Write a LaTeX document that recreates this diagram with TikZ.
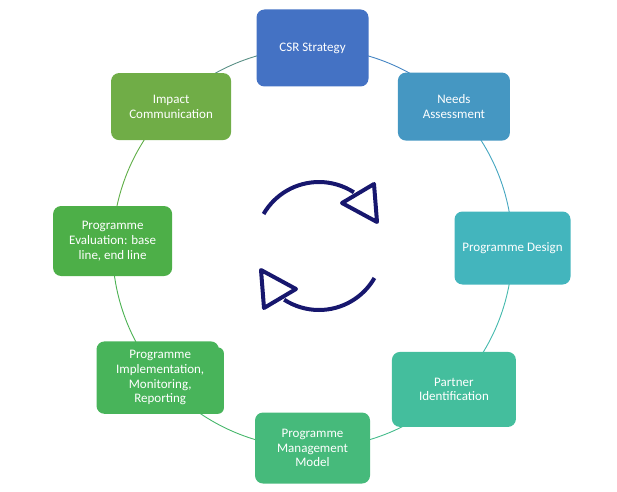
\documentclass[tikz,border=0pt]{standalone}
\usepackage{fontspec}
\setmainfont{Carlito}
\usetikzlibrary{calc}
\pgfdeclarelayer{bg}\pgfdeclarelayer{mid}
\pgfsetlayers{bg,mid,main}
\definecolor{cA}{HTML}{4472C4}
\definecolor{cB}{HTML}{4597C2}
\definecolor{cC}{HTML}{43B5BD}
\definecolor{cD}{HTML}{44BE9D}
\definecolor{cE}{HTML}{46BA7B}
\definecolor{cF}{HTML}{48B45A}
\definecolor{cG}{HTML}{4DAF48}
\definecolor{cH}{HTML}{70AD47}
\definecolor{navy}{HTML}{17176E}
\tikzset{
  box/.style={rounded corners=8pt, text=white, align=center, inner sep=0pt,
    font=\fontsize{13}{14.7}\selectfont},
  ring/.style={line width=0.9pt},
  cyc/.style={navy, line width=4pt},
  cyctip/.style={draw=navy, fill=white, line width=4pt, line join=round},
}
\begin{document}
\begin{tikzpicture}[x=1pt,y=1pt]
\useasboundingbox (0,0) rectangle (617,491);
\coordinate (O) at (312.5,243);
% nodes
\node[box, fill=cA, minimum width=112, minimum height=77] (csr) at ($(O)+(90:200)$) {CSR Strategy};
\node[box, fill=cB, minimum width=112, minimum height=68] (needs) at ($(O)+(45:200)$) {Needs\\Assessment};
\node[box, fill=cC, minimum width=116, minimum height=73] (design) at ($(O)+(0:200)$) {Programme Design};
\node[box, fill=cD, minimum width=124, minimum height=75] (partner) at ($(O)+(-45:200)$) {Partner\\Identification};
\node[box, fill=cE, minimum width=115, minimum height=71] (mgmt) at ($(O)+(-90:200)$) {Programme\\Management\\Model};
\node[box, minimum width=127, minimum height=72] (impl) at ($(O)+(-139.6:200)$) {Programme\\Implementation,\\Monitoring,\\Reporting};
\node[box, fill=cG, minimum width=119, minimum height=70] (eval) at ($(O)+(178:200)$) {Programme\\Evaluation: base\\line, end line};
\node[box, fill=cH, minimum width=120, minimum height=67] (impact) at ($(O)+(135:200)$) {Impact\\Communication};
\begin{pgfonlayer}{mid}
  \fill[cF, rounded corners=8pt] (impl.south west) rectangle ([xshift=-5pt]impl.north east);
  \fill[cF, rounded corners=6pt] ([xshift=-30pt,yshift=-6pt]impl.north east) rectangle (impl.south east);
\end{pgfonlayer}
% ring
\begin{pgfonlayer}{bg}
  \draw[ring, cA!50!cB] (csr.center) arc[start angle=90, end angle=45, radius=200];
  \draw[ring, cB!50!cC] (needs.center) arc[start angle=45, end angle=0, radius=200];
  \draw[ring, cC!50!cD] (design.center) arc[start angle=0, end angle=-45, radius=200];
  \draw[ring, cD!50!cE] (partner.center) arc[start angle=-45, end angle=-90, radius=200];
  \draw[ring, cE!50!cF] (mgmt.center) arc[start angle=-90, end angle=-139.6, radius=200];
  \draw[ring, cF!50!cG] (eval.center) arc[start angle=178, end angle=220.4, radius=200];
  \draw[ring, cG!50!cH] (impact.center) arc[start angle=135, end angle=178, radius=200];
  \draw[ring, cH!50!cA] (csr.center) arc[start angle=90, end angle=135, radius=200];
\end{pgfonlayer}
% cycle arrows
\coordinate (C) at (319,245);
\coordinate (u1) at (342,288);
\coordinate (u2) at (374,307);
\coordinate (u3) at (377,269);
\coordinate (l1) at (296,202);
\coordinate (l2) at (264,183);
\coordinate (l3) at (261,221);
\draw[cyc] ($(C)+(150:64)$) arc[start angle=150, end angle=57, radius=64];
\draw[cyc] ($(C)+(-30:64)$) arc[start angle=-30, end angle=-123, radius=64];
\draw[cyctip] (u1) -- (u2) -- (u3) -- cycle;
\draw[cyctip] (l1) -- (l2) -- (l3) -- cycle;
\end{tikzpicture}
\end{document}
